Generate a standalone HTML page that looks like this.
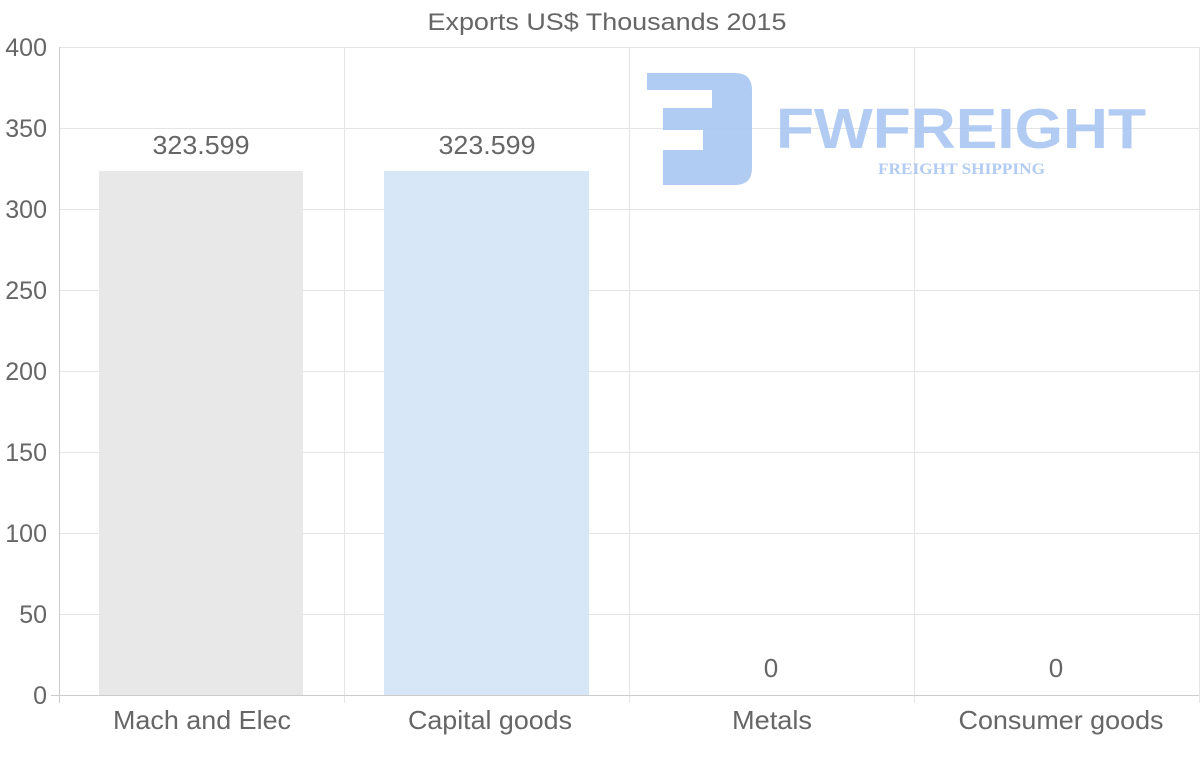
<!DOCTYPE html>
<html><head><style>
html,body{margin:0;padding:0;background:#fff;}
svg{display:block;font-family:"Liberation Sans",Arial,sans-serif;}
</style></head><body>
<svg width="1200" height="763" viewBox="0 0 1200 763">
<text x="607" y="30" font-size="24" fill="#666" text-anchor="middle" textLength="359" lengthAdjust="spacingAndGlyphs">Exports US$ Thousands 2015</text>
<g stroke="#e5e5e5" stroke-width="1">
<line x1="59" y1="47.5" x2="1199" y2="47.5"/>
<line x1="59" y1="128.5" x2="1199" y2="128.5"/>
<line x1="59" y1="209.5" x2="1199" y2="209.5"/>
<line x1="59" y1="290.5" x2="1199" y2="290.5"/>
<line x1="59" y1="371.5" x2="1199" y2="371.5"/>
<line x1="59" y1="452.5" x2="1199" y2="452.5"/>
<line x1="59" y1="533.5" x2="1199" y2="533.5"/>
<line x1="59" y1="614.5" x2="1199" y2="614.5"/>
<line x1="344.5" y1="47" x2="344.5" y2="703"/>
<line x1="629.5" y1="47" x2="629.5" y2="703"/>
<line x1="914.5" y1="47" x2="914.5" y2="703"/>
<line x1="1199.5" y1="47" x2="1199.5" y2="703"/>
</g>
<g stroke="#ccc"><line x1="59.5" y1="47" x2="59.5" y2="703"/><line x1="51" y1="695.5" x2="1199" y2="695.5"/></g>
<g font-size="25" fill="#666" text-anchor="end">
<text x="47" y="56">400</text><text x="47" y="137">350</text><text x="47" y="218">300</text>
<text x="47" y="299">250</text><text x="47" y="380">200</text><text x="47" y="461">150</text>
<text x="47" y="542">100</text><text x="47" y="623">50</text><text x="47" y="704">0</text>
</g>
<rect x="99" y="171" width="204" height="524" fill="#e8e8e8"/>
<rect x="384" y="171" width="205" height="524" fill="#d7e7f8"/>
<g font-size="26" fill="#666" text-anchor="middle">
<text x="201" y="154" textLength="97" lengthAdjust="spacingAndGlyphs">323.599</text><text x="487" y="154" textLength="97" lengthAdjust="spacingAndGlyphs">323.599</text>
<text x="771" y="677">0</text><text x="1056" y="677">0</text>
<text x="202" y="729" textLength="178" lengthAdjust="spacingAndGlyphs">Mach and Elec</text><text x="490" y="729" textLength="164" lengthAdjust="spacingAndGlyphs">Capital goods</text>
<text x="772" y="729" textLength="80" lengthAdjust="spacingAndGlyphs">Metals</text><text x="1061" y="729" textLength="205" lengthAdjust="spacingAndGlyphs">Consumer goods</text>
</g>
<g fill="#a9c6f2" opacity="0.9">
<path d="M647 73 H735 Q752 73 752 90 V168 Q752 185 735 185 H663 V150 H703 V130 H663 V108 H712 V90 H647 Z"/>
<text x="776" y="148" font-size="57" font-weight="bold" textLength="370" lengthAdjust="spacingAndGlyphs">FWFREIGHT</text>
<text x="878" y="174" font-size="16" font-weight="bold" font-family="Liberation Serif,serif" textLength="167" lengthAdjust="spacingAndGlyphs">FREIGHT SHIPPING</text>
</g>
</svg>
</body></html>
